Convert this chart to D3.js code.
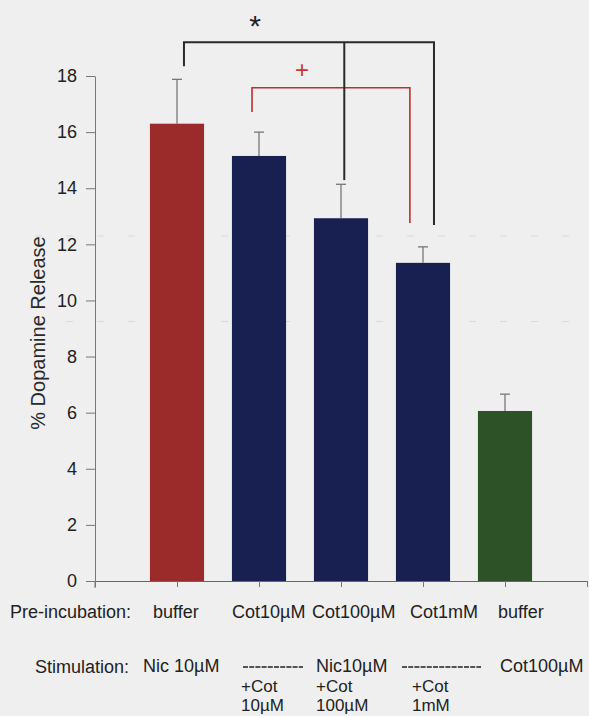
<!DOCTYPE html>
<html>
<head>
<meta charset="utf-8">
<script src="https://cdn.jsdelivr.net/npm/d3@7"></script>
<style>
  body { margin: 0; background: #efefef; }
  svg { display: block; font-family: "Liberation Sans", Arial, sans-serif; }
</style>
</head>
<body>
<svg id="chart"></svg>
<script>
// data
const preIncubation = ["buffer", "Cot10µM", "Cot100µM", "Cot1mM", "buffer"];
const releaseMean = [16.3, 15.15, 12.93, 11.34, 6.06];
const releaseErr = [1.58, 0.85, 1.21, 0.57, 0.6];
const barColors = ["#9b2b2b", "#172050", "#172050", "#172050", "#2e5227"];
const yTicks = [0, 2, 4, 6, 8, 10, 12, 14, 16, 18];
const stimTop = ["Nic 10µM", "", "Nic10µM", "", "Cot100µM"];
const stimSub = [[], ["+Cot", "10µM"], ["+Cot", "100µM"], ["+Cot", "1mM"], []];

const svgWidth = 589, svgHeight = 716;
const margin = {top: 76, left: 95, bottom: 135, right: 2};

const chart = d3.select("#chart")
    .attr("width", svgWidth)
    .attr("height", svgHeight);

chart.append("rect")
    .attr("width", svgWidth).attr("height", svgHeight)
    .attr("fill", "#efefef");

// x: one slot per bar plus empty slots at both ends
var xScale = d3.scaleLinear()
    .domain([0, preIncubation.length + 1])
    .range([margin.left, svgWidth - margin.right]);
var yScale = d3.scaleLinear()
    .domain([0, 18])
    .range([svgHeight - margin.bottom, margin.top]);

const slot = xScale(1) - xScale(0);
const barW = slot * 0.66;

// faint scan lines
chart.selectAll(".scan")
    .data([12.3, 9.25])
    .enter().append("line")
    .attr("x1", xScale(0) - 60).attr("x2", xScale(6))
    .attr("y1", d => yScale(d)).attr("y2", d => yScale(d))
    .attr("stroke", "#d9d9d9")
    .attr("stroke-dasharray", "7,24");

// y axis
const yAxisG = chart.append("g")
    .attr("transform", `translate(${margin.left},0)`)
    .call(d3.axisLeft(yScale).tickValues(yTicks).tickSize(9).tickSizeOuter(0).tickPadding(9));
yAxisG.select(".domain").attr("stroke", "#777");
yAxisG.selectAll(".tick line").attr("stroke", "#777");
yAxisG.selectAll(".tick text")
    .attr("fill", "#222")
    .style("font-size", "18px")
    .style("font-family", "'Liberation Sans', Arial, sans-serif");
// axis continues slightly below zero
chart.append("line")
    .attr("x1", margin.left).attr("x2", margin.left)
    .attr("y1", yScale(0)).attr("y2", yScale(0) + 7)
    .attr("stroke", "#777");

// bars
chart.selectAll(".bar")
    .data(releaseMean)
    .enter().append("rect")
    .attr("x", (d, i) => xScale(i + 1) - barW / 2)
    .attr("y", d => yScale(d))
    .attr("width", barW)
    .attr("height", d => yScale(0) - yScale(d))
    .attr("fill", (d, i) => barColors[i]);

// x axis
const xAxisG = chart.append("g")
    .attr("transform", `translate(0,${yScale(0)})`)
    .call(d3.axisBottom(xScale).tickValues(d3.range(0, 7)).tickSize(6).tickSizeOuter(0).tickFormat(""));
xAxisG.select(".domain").attr("stroke", "#666");
xAxisG.selectAll(".tick line").attr("stroke", "#777");

// error bars (upper only)
const err = chart.append("g").attr("stroke", "#777").attr("stroke-width", 1.3);
err.selectAll(".ev")
    .data(releaseMean)
    .enter().append("line")
    .attr("x1", (d, i) => xScale(i + 1)).attr("x2", (d, i) => xScale(i + 1))
    .attr("y1", d => yScale(d))
    .attr("y2", (d, i) => yScale(d + releaseErr[i]));
err.selectAll(".ec")
    .data(releaseMean)
    .enter().append("line")
    .attr("x1", (d, i) => xScale(i + 1) - 5).attr("x2", (d, i) => xScale(i + 1) + 5)
    .attr("y1", (d, i) => yScale(d + releaseErr[i]))
    .attr("y2", (d, i) => yScale(d + releaseErr[i]));

// significance brackets (x in slot units, y in % units)
const blackBracket = [[1.085, 18.35], [1.085, 19.2], [4.134, 19.2], [4.134, 12.69]];
const blackStem = [[3.04, 19.2], [3.04, 14.29]];
const redBracket = [[1.915, 16.72], [1.915, 17.58], [3.84, 17.58], [3.84, 12.76]];
const line = d3.line().x(d => xScale(d[0])).y(d => yScale(d[1]));

chart.append("path").attr("d", line(redBracket))
    .attr("fill", "none").attr("stroke", "#b8322e").attr("stroke-width", 1.6);
chart.append("path").attr("d", line(blackBracket))
    .attr("fill", "none").attr("stroke", "#2a2a2a").attr("stroke-width", 2);
chart.append("path").attr("d", line(blackStem))
    .attr("fill", "none").attr("stroke", "#2a2a2a").attr("stroke-width", 2);

chart.append("text")
    .attr("x", 255).attr("y", 36)
    .attr("text-anchor", "middle")
    .attr("fill", "#222")
    .style("font-size", "30px")
    .text("*");
chart.append("text")
    .attr("x", 302).attr("y", 78)
    .attr("text-anchor", "middle")
    .attr("fill", "#c0392b")
    .style("font-size", "24px")
    .style("font-weight", "300")
    .text("+");

// y label
chart.append("text")
    .attr("transform", "translate(45,333) rotate(-90)")
    .attr("text-anchor", "middle")
    .attr("fill", "#2a2a2a")
    .style("font-size", "20px")
    .text("% Dopamine Release");

// bottom labels
const labelStyle = sel => sel.attr("fill", "#222").style("font-size", "18px");
const subStyle = sel => sel.attr("fill", "#222").style("font-size", "17px");
const preX = [153, 232, 312, 410, 498];
const stimX = [143, 241, 316, 412, 500];

chart.append("text").attr("x", 10).attr("y", 618).call(labelStyle).text("Pre-incubation:");
chart.selectAll(".pre")
    .data(preIncubation)
    .enter().append("text")
    .attr("x", (d, i) => preX[i]).attr("y", 618)
    .call(labelStyle)
    .text(d => d);

chart.append("text").attr("x", 35).attr("y", 673).call(labelStyle).text("Stimulation:");
chart.selectAll(".stim")
    .data(stimTop)
    .enter().append("text")
    .attr("x", (d, i) => stimX[i]).attr("y", 672)
    .call(labelStyle)
    .text(d => d);

// dashed placeholders for "same as above"
const dashSpans = [[243, 303], [402, 481]];
chart.selectAll(".dash")
    .data(dashSpans)
    .enter().append("line")
    .attr("x1", d => d[0]).attr("x2", d => d[1])
    .attr("y1", 667).attr("y2", 667)
    .attr("stroke", "#222").attr("stroke-width", 1.6)
    .attr("stroke-dasharray", "5,1.2");

stimSub.forEach((lines, i) => {
  lines.forEach((t, j) => {
    chart.append("text")
        .attr("x", stimX[i]).attr("y", 692 + j * 19)
        .call(subStyle)
        .text(t);
  });
});
</script>
</body>
</html>
